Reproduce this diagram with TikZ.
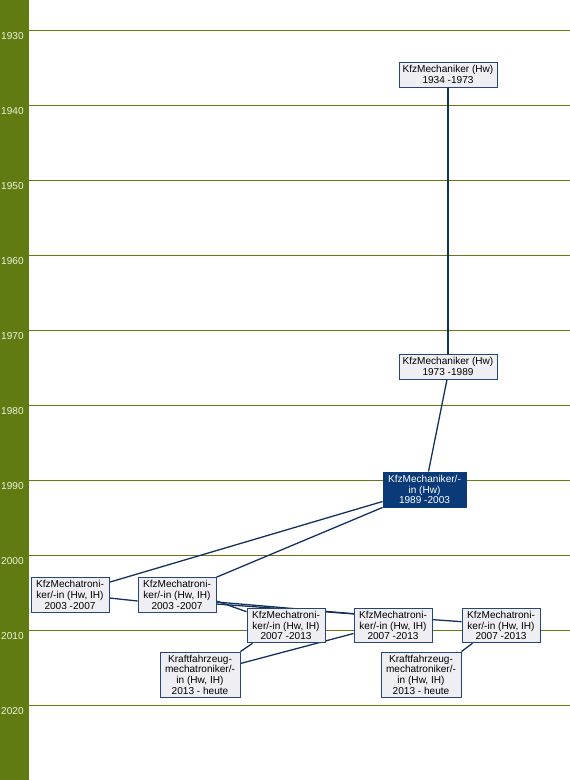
\documentclass[tikz,border=0pt]{standalone}
\usepackage{fontspec}
\setmainfont{Liberation Sans}
\usetikzlibrary{calc}
\pgfdeclarelayer{bg}
\pgfsetlayers{bg,main}
\definecolor{balken}{HTML}{5F7B12}
\definecolor{jahrgrid}{HTML}{6E7614}
\definecolor{jahrtext}{HTML}{EEF2DC}
\definecolor{kante}{HTML}{12305E}
\definecolor{rahmen}{HTML}{24447A}
\definecolor{boxfill}{HTML}{EFEFF3}
\definecolor{aktiv}{HTML}{0A3A78}

\begin{document}
\begin{tikzpicture}[x=0.03cm, y=-0.03cm, font=\fontsize{8.6}{9.1}\selectfont,
  beruf/.style={draw=rahmen, fill=boxfill, line width=0.8pt, inner sep=0pt, align=center},
  mechbox/.style={beruf, minimum width=2.94cm, minimum height=0.75cm},
  tronbox/.style={beruf, minimum width=2.34cm, minimum height=1.04cm},
  kfzbox/.style={beruf, minimum width=2.4cm, minimum height=1.35cm},
  aktuell/.style={beruf, fill=aktiv, draw=aktiv, text=white, minimum width=2.49cm, minimum height=1.05cm},
  verbindung/.style={draw=kante, line width=1.1pt},
  jahrlinie/.style={draw=jahrgrid, line width=0.8pt},
  jahr/.style={anchor=west, inner sep=0pt, text=jahrtext}]

  \useasboundingbox (0,0) rectangle (570,780);

  % ---- time axis ----
  \begin{pgfonlayer}{bg}
    \fill[balken] (0,0) rectangle (29,780);
    \foreach \j [count=\k from 0] in {1930,1940,...,2020}
      \draw[jahrlinie] (29,{30+75*\k}) -- (570,{30+75*\k});
  \end{pgfonlayer}
  \foreach \j [count=\k from 0] in {1930,1940,...,2020}
    \node[jahr] (jahr\j) at (1,{36.5+75*\k}) {\j};

  % ---- Mechaniker ----
  \node[mechbox] (kfz34) at (448,74.5)  {KfzMechaniker (Hw)\\1934 -1973};
  \node[mechbox] (kfz73) at (448,366.5) {KfzMechaniker (Hw)\\1973 -1989};
  \node[aktuell] (kfz89) at (424.5,489.5) {KfzMechaniker/-\\in (Hw)\\1989 -2003};

  % ---- Mechatroniker ----
  \node[tronbox] (mt03a) at (70,595)    {KfzMechatroni-\\ker/-in (Hw, IH)\\2003 -2007};
  \node[tronbox] (mt03b) at (177,595)   {KfzMechatroni-\\ker/-in (Hw, IH)\\2003 -2007};
  \node[tronbox] (mt07a) at (286,625.5) {KfzMechatroni-\\ker/-in (Hw, IH)\\2007 -2013};
  \node[tronbox] (mt07b) at (393,625.5) {KfzMechatroni-\\ker/-in (Hw, IH)\\2007 -2013};
  \node[tronbox] (mt07c) at (501,625.5) {KfzMechatroni-\\ker/-in (Hw, IH)\\2007 -2013};

  % ---- Kraftfahrzeugmechatroniker ----
  \node[kfzbox] (kf13a) at (200,674.5) {Kraftfahrzeug-\\mechatroniker/-\\in (Hw, IH)\\2013 - heute};
  \node[kfzbox] (kf13b) at (421,674.5) {Kraftfahrzeug-\\mechatroniker/-\\in (Hw, IH)\\2013 - heute};

  % ---- connections (behind the boxes) ----
  \begin{pgfonlayer}{bg}
    \draw[verbindung] (kfz34.south) -- (kfz73.north);
    \draw[verbindung] ($(kfz73.south)+(-1,0)$) -- ($(kfz89.north)+(4,0)$);
    \draw[verbindung] ($(kfz89.west)+(0,12)$) -- ($(mt03a.north east)+(0,5)$);
    \draw[verbindung] (kfz89.south west) -- (mt03b.north east);
    \draw[verbindung] ($(mt03a.east)+(0,3)$) -- ($(mt03b.west)+(0,6)$);
    \draw[verbindung] ($(mt03b.east)+(0,6)$) -- ($(mt07a.north west)+(0,4)$);
    \draw[verbindung] ($(mt03b.east)+(0,7)$) -- ($(mt07b.north west)+(0,6)$);
    \draw[verbindung] ($(mt03b.east)+(0,9)$) -- ($(mt07c.north west)+(0,14)$);
    \draw[verbindung] ($(mt07a.south west)+(6,0)$) -- (kf13a.north east);
    \draw[verbindung] ($(kf13a.east)+(0,-11)$) -- ($(mt07b.west)+(0,8)$);
    \draw[verbindung] (kf13b.north east) -- ($(mt07c.south west)+(11,0)$);
  \end{pgfonlayer}

\end{tikzpicture}
\end{document}
